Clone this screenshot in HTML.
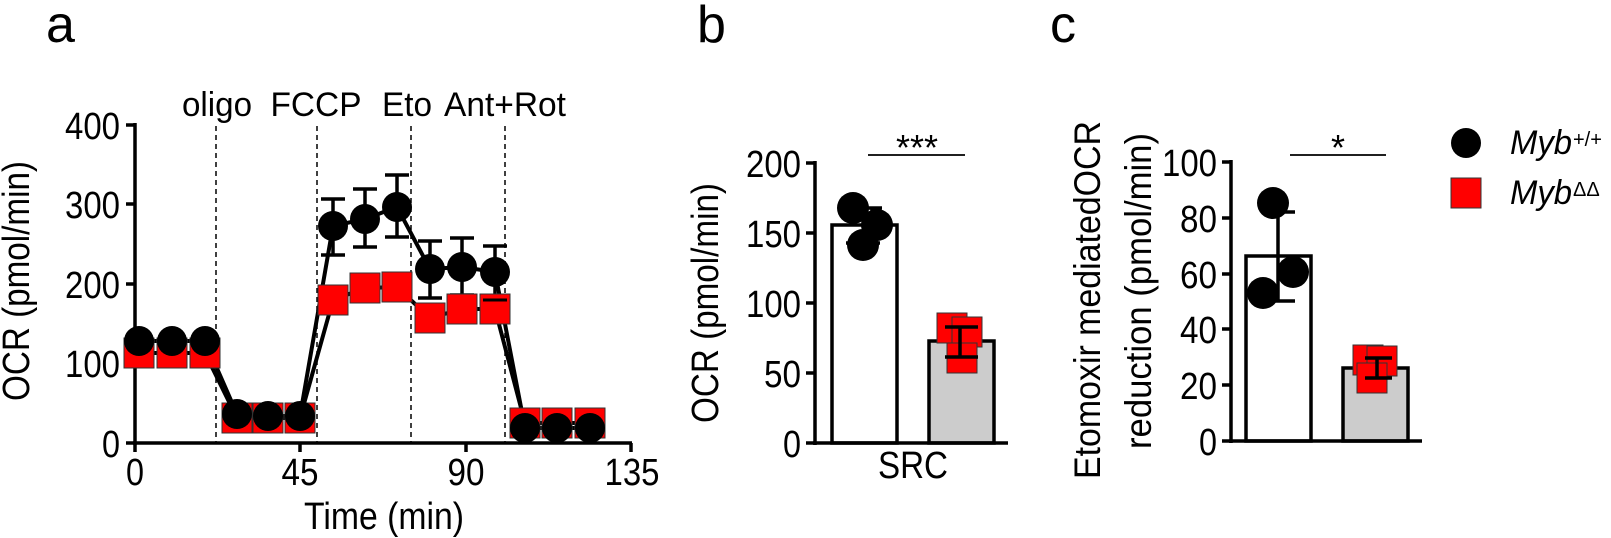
<!DOCTYPE html>
<html><head><meta charset="utf-8"><style>
html,body{margin:0;padding:0;background:#fff}
svg{display:block}
text{font-family:"Liberation Sans",Arial,sans-serif;fill:#000}
</style></head><body>
<svg width="1611" height="538" viewBox="0 0 1611 538" xmlns="http://www.w3.org/2000/svg">
<!-- Panel labels -->
<text x="46" y="42" font-size="52">a</text>
<text x="697" y="42" font-size="52">b</text>
<text x="1050" y="42" font-size="52">c</text>

<!-- ===== Panel a ===== -->
<g stroke="#000" stroke-width="1.5" stroke-dasharray="5,4">
<line x1="216" y1="126" x2="216" y2="443"/>
<line x1="317" y1="126" x2="317" y2="443"/>
<line x1="411" y1="126" x2="411" y2="443"/>
<line x1="505" y1="126" x2="505" y2="443"/>
</g>
<g font-size="34" text-anchor="middle">
<text x="217" y="116" textLength="70" lengthAdjust="spacingAndGlyphs">oligo</text>
<text x="316" y="116" textLength="91" lengthAdjust="spacingAndGlyphs">FCCP</text>
<text x="407" y="116" textLength="50" lengthAdjust="spacingAndGlyphs">Eto</text>
<text x="505" y="116" textLength="122" lengthAdjust="spacingAndGlyphs">Ant+Rot</text>
</g>
<g stroke="#000" stroke-width="3.5" fill="none">
<line x1="135" y1="123" x2="135" y2="445"/>
<line x1="133" y1="443" x2="632" y2="443"/>
<line x1="126" y1="125" x2="135" y2="125"/>
<line x1="126" y1="204" x2="135" y2="204"/>
<line x1="126" y1="284" x2="135" y2="284"/>
<line x1="126" y1="363" x2="135" y2="363"/>
<line x1="126" y1="443" x2="135" y2="443"/>
<line x1="135" y1="443" x2="135" y2="452"/>
<line x1="300" y1="443" x2="300" y2="452"/>
<line x1="466" y1="443" x2="466" y2="452"/>
<line x1="631" y1="443" x2="631" y2="452"/>
</g>
<g font-size="38" text-anchor="end">
<text x="120" y="139" textLength="55" lengthAdjust="spacingAndGlyphs">400</text>
<text x="120" y="218" textLength="55" lengthAdjust="spacingAndGlyphs">300</text>
<text x="120" y="298" textLength="55" lengthAdjust="spacingAndGlyphs">200</text>
<text x="120" y="377" textLength="55" lengthAdjust="spacingAndGlyphs">100</text>
<text x="120" y="457" textLength="18" lengthAdjust="spacingAndGlyphs">0</text>
</g>
<g font-size="38" text-anchor="middle">
<text x="135" y="485" textLength="18" lengthAdjust="spacingAndGlyphs">0</text>
<text x="300" y="485" textLength="37" lengthAdjust="spacingAndGlyphs">45</text>
<text x="466" y="485" textLength="37" lengthAdjust="spacingAndGlyphs">90</text>
<text x="632" y="485" textLength="55" lengthAdjust="spacingAndGlyphs">135</text>
<text x="384" y="529" textLength="160" lengthAdjust="spacingAndGlyphs">Time (min)</text>
</g>
<text transform="translate(29,281) rotate(-90)" font-size="38" text-anchor="middle" textLength="240" lengthAdjust="spacingAndGlyphs">OCR (pmol/min)</text>

<!-- red line -->
<polyline fill="none" stroke="#000" stroke-width="4" points="139,353 172,353 205,353 237,418 268,418 300,418 333,300 365,288 397,287 430,318 462,309 495,309 525,423 557,423 590,423"/>
<!-- black line -->
<polyline fill="none" stroke="#000" stroke-width="4" points="139,341 172,341 205,341 237,414 268,416 300,416 333,226 365,219 397,207 430,269 462,267 495,272 525,428 557,428 590,428"/>
<!-- error bars black -->
<g stroke="#000" stroke-width="3.5">
<line x1="333" y1="199" x2="333" y2="255"/><line x1="321" y1="199" x2="345" y2="199"/><line x1="321" y1="255" x2="345" y2="255"/>
<line x1="365" y1="189" x2="365" y2="247"/><line x1="353" y1="189" x2="377" y2="189"/><line x1="353" y1="247" x2="377" y2="247"/>
<line x1="397" y1="175" x2="397" y2="237"/><line x1="385" y1="175" x2="409" y2="175"/><line x1="385" y1="237" x2="409" y2="237"/>
<line x1="430" y1="241" x2="430" y2="298"/><line x1="418" y1="241" x2="442" y2="241"/><line x1="418" y1="298" x2="442" y2="298"/>
<line x1="462" y1="238" x2="462" y2="295"/><line x1="450" y1="238" x2="474" y2="238"/><line x1="450" y1="295" x2="474" y2="295"/>
<line x1="495" y1="246" x2="495" y2="299"/><line x1="483" y1="246" x2="507" y2="246"/><line x1="483" y1="299" x2="507" y2="299"/>
</g>
<!-- red squares -->
<g fill="#f00" stroke="#333" stroke-width="1">
<rect x="124" y="338" width="30" height="30"/><rect x="157" y="338" width="30" height="30"/><rect x="190" y="338" width="30" height="30"/>
<rect x="222" y="403" width="30" height="30"/><rect x="253" y="403" width="30" height="30"/><rect x="285" y="403" width="30" height="30"/>
<rect x="318" y="285" width="30" height="30"/><rect x="350" y="273" width="30" height="30"/><rect x="382" y="272" width="30" height="30"/>
<rect x="415" y="303" width="30" height="30"/><rect x="447" y="294" width="30" height="30"/><rect x="480" y="294" width="30" height="30"/>
<rect x="510" y="408" width="30" height="30"/><rect x="542" y="408" width="30" height="30"/><rect x="575" y="408" width="30" height="30"/>
</g>
<line x1="483" y1="300" x2="507" y2="300" stroke="#000" stroke-width="3"/>
<!-- black circles -->
<g fill="#000">
<circle cx="139" cy="341" r="15"/><circle cx="172" cy="341" r="15"/><circle cx="205" cy="341" r="15"/>
<circle cx="237" cy="414" r="15"/><circle cx="268" cy="416" r="15"/><circle cx="300" cy="416" r="15"/>
<circle cx="333" cy="226" r="15"/><circle cx="365" cy="219" r="15"/><circle cx="397" cy="207" r="15"/>
<circle cx="430" cy="269" r="15"/><circle cx="462" cy="267" r="15"/><circle cx="495" cy="272" r="15"/>
<circle cx="525" cy="428" r="15"/><circle cx="557" cy="428" r="15"/><circle cx="590" cy="428" r="15"/>
</g>

<!-- ===== Panel b ===== -->
<rect x="832" y="225" width="65" height="218" fill="#fff" stroke="#000" stroke-width="3.5"/>
<rect x="929" y="341" width="65" height="102" fill="#ccc" stroke="#000" stroke-width="3.5"/>
<g stroke="#000" stroke-width="3.5">
<line x1="815" y1="161" x2="815" y2="445"/>
<line x1="813" y1="443" x2="1008" y2="443"/>
<line x1="806" y1="163" x2="815" y2="163"/>
<line x1="806" y1="233" x2="815" y2="233"/>
<line x1="806" y1="303" x2="815" y2="303"/>
<line x1="806" y1="373" x2="815" y2="373"/>
<line x1="806" y1="443" x2="815" y2="443"/>
</g>
<line x1="868" y1="155" x2="965" y2="155" stroke="#000" stroke-width="1.8"/>
<text x="917" y="160" font-size="36" text-anchor="middle">***</text>
<g font-size="38" text-anchor="end">
<text x="801" y="177" textLength="55" lengthAdjust="spacingAndGlyphs">200</text>
<text x="801" y="247" textLength="55" lengthAdjust="spacingAndGlyphs">150</text>
<text x="801" y="317" textLength="55" lengthAdjust="spacingAndGlyphs">100</text>
<text x="801" y="387" textLength="37" lengthAdjust="spacingAndGlyphs">50</text>
<text x="801" y="457" textLength="18" lengthAdjust="spacingAndGlyphs">0</text>
</g>
<text x="913" y="478" font-size="38" text-anchor="middle" textLength="70" lengthAdjust="spacingAndGlyphs">SRC</text>
<text transform="translate(718,303) rotate(-90)" font-size="38" text-anchor="middle" textLength="240" lengthAdjust="spacingAndGlyphs">OCR (pmol/min)</text>
<g fill="#000">
<circle cx="853" cy="208" r="16"/><circle cx="877" cy="225" r="16"/><circle cx="863" cy="245" r="16"/>
</g>
<g stroke="#000" stroke-width="3.5">
<line x1="872" y1="208" x2="872" y2="243"/><line x1="864" y1="208" x2="882" y2="208"/><line x1="846" y1="243" x2="880" y2="243"/>
</g>
<g fill="#f00" stroke="#333" stroke-width="1">
<rect x="937" y="313" width="30" height="30"/><rect x="952" y="317" width="30" height="30"/><rect x="947" y="343" width="30" height="30"/>
</g>
<g stroke="#000" stroke-width="3.5">
<line x1="960" y1="327" x2="960" y2="357"/><line x1="945" y1="327" x2="978" y2="327"/><line x1="945" y1="357" x2="978" y2="357"/>
</g>

<!-- ===== Panel c ===== -->
<rect x="1246" y="256" width="65" height="185" fill="#fff" stroke="#000" stroke-width="3.5"/>
<rect x="1343" y="368" width="65" height="73" fill="#ccc" stroke="#000" stroke-width="3.5"/>
<g stroke="#000" stroke-width="3.5">
<line x1="1231" y1="160" x2="1231" y2="443"/>
<line x1="1229" y1="441" x2="1422" y2="441"/>
<line x1="1222" y1="162" x2="1231" y2="162"/>
<line x1="1222" y1="218" x2="1231" y2="218"/>
<line x1="1222" y1="274" x2="1231" y2="274"/>
<line x1="1222" y1="329" x2="1231" y2="329"/>
<line x1="1222" y1="385" x2="1231" y2="385"/>
<line x1="1222" y1="441" x2="1231" y2="441"/>
</g>
<line x1="1290" y1="155" x2="1386" y2="155" stroke="#000" stroke-width="1.8"/>
<text x="1338" y="160" font-size="36" text-anchor="middle">*</text>
<g font-size="38" text-anchor="end">
<text x="1217" y="176" textLength="55" lengthAdjust="spacingAndGlyphs">100</text>
<text x="1217" y="232" textLength="37" lengthAdjust="spacingAndGlyphs">80</text>
<text x="1217" y="288" textLength="37" lengthAdjust="spacingAndGlyphs">60</text>
<text x="1217" y="343" textLength="37" lengthAdjust="spacingAndGlyphs">40</text>
<text x="1217" y="399" textLength="37" lengthAdjust="spacingAndGlyphs">20</text>
<text x="1217" y="455" textLength="18" lengthAdjust="spacingAndGlyphs">0</text>
</g>
<text transform="translate(1100,300) rotate(-90)" font-size="37" text-anchor="middle" textLength="358" lengthAdjust="spacingAndGlyphs">Etomoxir mediatedOCR</text>
<text transform="translate(1151,291) rotate(-90)" font-size="37" text-anchor="middle" textLength="316" lengthAdjust="spacingAndGlyphs">reduction (pmol/min)</text>
<g fill="#000">
<circle cx="1273" cy="203" r="16"/><circle cx="1263" cy="293" r="16"/><circle cx="1293" cy="272" r="16"/>
</g>
<g stroke="#000" stroke-width="3.5">
<line x1="1278" y1="212" x2="1278" y2="301"/><line x1="1262" y1="212" x2="1295" y2="212"/><line x1="1262" y1="301" x2="1295" y2="301"/>
</g>
<g fill="#f00" stroke="#333" stroke-width="1">
<rect x="1353" y="345" width="30" height="30"/><rect x="1367" y="346" width="30" height="30"/><rect x="1357" y="363" width="30" height="30"/>
</g>
<g stroke="#000" stroke-width="3.5">
<line x1="1377" y1="358" x2="1377" y2="378"/><line x1="1365" y1="358" x2="1392" y2="358"/><line x1="1365" y1="378" x2="1392" y2="378"/>
</g>

<!-- Legend -->
<circle cx="1466" cy="143" r="15" fill="#000"/>
<rect x="1451" y="178" width="30" height="30" fill="#f00" stroke="#333" stroke-width="1"/>
<text x="1510" y="154" font-size="34" font-style="italic" textLength="62" lengthAdjust="spacingAndGlyphs">Myb</text>
<text x="1573" y="146" font-size="20">+/+</text>
<text x="1510" y="204" font-size="34" font-style="italic" textLength="62" lengthAdjust="spacingAndGlyphs">Myb</text>
<text x="1573" y="196" font-size="20">ΔΔ</text>
</svg>
</body></html>
